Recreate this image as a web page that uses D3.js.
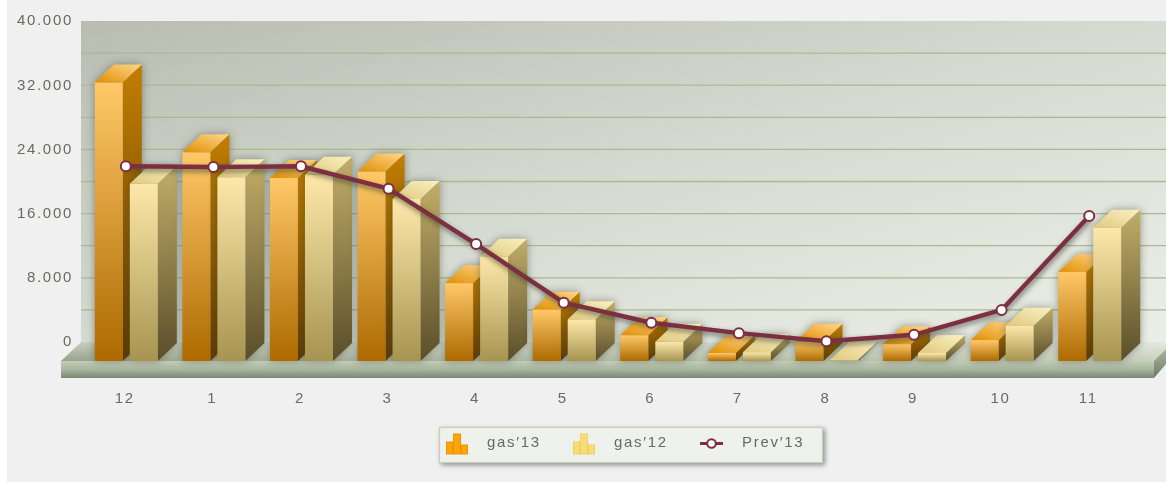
<!DOCTYPE html>
<html><head><meta charset="utf-8">
<script src="https://cdn.jsdelivr.net/npm/d3@7/dist/d3.min.js"></script>
<style>
html,body{margin:0;padding:0;background:#fff;overflow:hidden}
svg{display:block;position:absolute;left:0;top:0}
text{font-family:"Liberation Sans",Arial,sans-serif;font-size:15px;letter-spacing:1.7px;fill:#666c5e}
</style></head><body>
<script>
const categories=["12","1","2","3","4","5","6","7","8","9","10","11"];
const gas13=[34700,26000,22800,23600,9700,6400,3200,1000,2400,2100,2600,11100];
const gas12=[22100,22900,23200,20200,13000,5200,2400,1100,200,1000,4400,16600];
const prev13=[21900,21800,21900,19100,12200,4900,2400,1100,100,900,4000,15700];
const yTicks=[0,8000,16000,24000,32000,40000];
const gridValues=[4000,8000,12000,16000,20000,24000,28000,32000,36000];
const legendLabels=["gas\u203213","gas\u203212","Prev\u203213"];

const W=1166,H=482,DX=19,DY=18;
const svg=d3.select("body").append("svg").attr("width",W).attr("height",H);
const defs=svg.append("defs");
function grad(id,stops,x1=0,y1=0,x2=0,y2=1){
  const g=defs.append("linearGradient").attr("id",id).attr("x1",x1).attr("y1",y1).attr("x2",x2).attr("y2",y2);
  stops.forEach((c,i)=>g.append("stop").attr("offset",i/(stops.length-1)).attr("stop-color",c));
}
grad("wall",["#b8bcb1","#d6dbd1","#eceFE8"],0,0,1,1);
grad("slab",["#c3cdb7","#a9b5a0","#7b8673"]);
grad("slabSide",["#a9b59f","#6f7a68"]);
grad("floor",["#98a38c","#c6cfbd","#e4e9df"],0,1,1,0);
grad("f13",["#ffc868","#ad6a00"]);
grad("s13",["#c27e00","#5d3a00"]);
grad("t13",["#e08f00","#ffd68c"],0,1,1,0);
grad("f12",["#fde8aa","#a79450"]);
grad("s12",["#c2ae68","#5a4e2a"]);
grad("t12",["#dfc97e","#fbf0c2"],0,1,1,0);
const sh=defs.append("filter").attr("id","shadow").attr("x","-40%").attr("y","-40%").attr("width","180%").attr("height","180%");
sh.append("feGaussianBlur").attr("stdDeviation",4);
const ls=defs.append("filter").attr("id","lshadow").attr("x","-10%").attr("y","-20%").attr("width","120%").attr("height","140%");
ls.append("feGaussianBlur").attr("stdDeviation",2.5);

const root=svg.append("g").style("filter","blur(0.5px)");
root.append("rect").attr("x",7).attr("y",0).attr("width",W-7).attr("height",H).attr("fill","#f0f0f0");

const x=d3.scaleBand().domain(categories).range([82,1133]);
const x1=d3.scaleBand().domain(["gas13","gas12"]).range([-31,32]).paddingInner(0.2);
const y=d3.scaleLinear().domain([0,40000]).range([342,21]);   // back wall plane
const yF=y.copy().range([361,40]);                            // front plane of the bars

// wall
root.append("rect").attr("x",81).attr("y",y(40000)).attr("width",W-81).attr("height",y(0)-y(40000)).attr("fill","url(#wall)");
root.append("g").selectAll("line").data(gridValues).join("line")
  .attr("x1",81).attr("x2",W).attr("y1",y).attr("y2",y).attr("stroke","#a9ba8e").attr("stroke-width",1.3);

// floor
const fx0=61,fx1=1154;
root.append("path").attr("d",`M${fx0},${yF(0)}L${fx0+DX+1},${y(0)}H${W}V${y(0)+7}L${fx1},${yF(0)}Z`).attr("fill","url(#floor)");
root.append("rect").attr("x",fx0).attr("y",yF(0)).attr("width",fx1-fx0).attr("height",17).attr("fill","url(#slab)");
root.append("path").attr("d",`M${fx1},${yF(0)}L${W},${yF(0)-12}V${yF(0)+3}L${fx1},${yF(0)+17}Z`).attr("fill","url(#slabSide)");

// y axis
const fmt=d3.formatLocale({decimal:",",thousands:".",grouping:[3],currency:["",""]}).format(",d");
const yAxis=root.append("g").attr("transform","translate(73,-1)").call(d3.axisLeft(y).tickValues(yTicks).tickSize(0).tickPadding(0).tickFormat(fmt));
yAxis.select(".domain").remove();
yAxis.attr("font-family",null).attr("font-size",null);

// x axis
const xAxis=root.append("g").attr("transform","translate(-1,392)").call(d3.axisBottom(x).tickSize(0).tickPadding(0));
xAxis.select(".domain").remove();
xAxis.attr("font-family",null).attr("font-size",null);

// bars
const series=[{k:"gas13",v:gas13,f:"f13",s:"s13",t:"t13"},{k:"gas12",v:gas12,f:"f12",s:"s12",t:"t12"}];
const bw=x1.bandwidth();
const sidePath=(l,top)=>`M${l+bw},${top}l${DX},${-DY}V${yF(0)-DY}l${-DX},${DY}Z`;
const topPath=(l,top)=>`M${l},${top}l${DX},${-DY}h${bw}l${-DX},${DY}Z`;
const shapes=[];
categories.forEach((c,i)=>series.forEach(s=>shapes.push({c,l:x(c)+x.bandwidth()/2+x1(s.k),top:yF(s.v[i]),s})));
const outline=d=>`M${d.l},${yF(0)}V${d.top}l${DX},${-DY}h${bw}V${yF(0)-DY}l${-DX},${DY}Z`;
const gb=root.append("g");
shapes.forEach(d=>{
  gb.append("path").attr("d",outline(d)).attr("fill","#3b3f33").attr("opacity",.5).attr("filter","url(#shadow)");
  gb.append("path").attr("d",sidePath(d.l,d.top)).attr("fill",`url(#${d.s.s})`);
  gb.append("path").attr("d",topPath(d.l,d.top)).attr("fill",`url(#${d.s.t})`);
  gb.append("rect").attr("x",d.l).attr("y",d.top).attr("width",bw).attr("height",yF(0)-d.top).attr("fill",`url(#${d.s.f})`);
});

// line
const lx=c=>x(c)+x.bandwidth()/2;
const line=d3.line().x((d,i)=>lx(categories[i])).y(d=>y(d)).curve(d3.curveLinear);
root.append("path").attr("d",line(prev13)).attr("fill","none").attr("stroke","#343828").attr("stroke-opacity",.55).attr("stroke-width",5).attr("transform","translate(1,3)").attr("filter","url(#lshadow)");
root.append("path").attr("d",line(prev13)).attr("fill","none").attr("stroke","#7c2f41").attr("stroke-width",4.4).attr("stroke-linejoin","round");
root.append("g").selectAll("circle").data(prev13).join("circle")
  .attr("cx",(d,i)=>lx(categories[i])).attr("cy",y).attr("r",5).attr("fill","#fff").attr("stroke","#7c2f41").attr("stroke-width",2);

// legend
const lg=root.append("g");
lg.append("rect").attr("x",441).attr("y",429).attr("width",384).attr("height",36).attr("fill","#454a3c").attr("opacity",.6).attr("filter","url(#lshadow)");
lg.append("rect").attr("x",439.5).attr("y",427.5).attr("width",383).attr("height",35).attr("fill","#eff1ec").attr("stroke","#c8cfbc").attr("stroke-width",1.2);
const icon=(x0,fill,stroke)=>{
  [[0,8,6],[7,0,7],[15,11,6]].forEach(([dx,dy,w])=>{
    lg.append("rect").attr("x",x0+dx+.5).attr("y",434+dy).attr("width",w).attr("height",20-dy).attr("fill",fill).attr("stroke",stroke);
  });
};
icon(446,"#fba50a","#f0930a");
icon(573,"#f8dc7a","#efcf68");
lg.append("line").attr("x1",700).attr("x2",723).attr("y1",443.5).attr("y2",443.5).attr("stroke","#7c2f41").attr("stroke-width",3);
lg.append("circle").attr("cx",711.5).attr("cy",443.5).attr("r",4.3).attr("fill","#fff").attr("stroke","#7c2f41").attr("stroke-width",2);
lg.selectAll("text").data(legendLabels).join("text").attr("x",(d,i)=>[487,614,742][i]).attr("y",447).text(d=>d);
</script></body></html>
